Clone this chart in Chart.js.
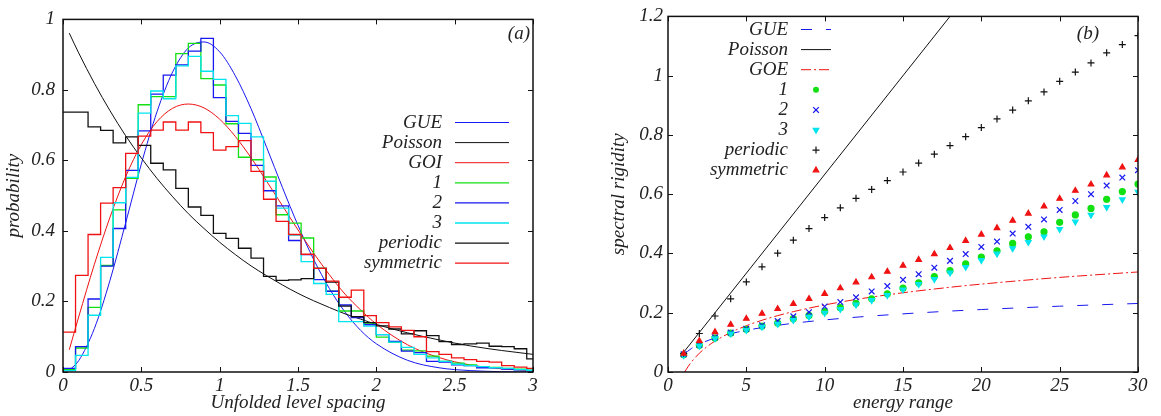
<!DOCTYPE html>
<html><head><meta charset="utf-8">
<script src="https://cdn.jsdelivr.net/npm/chart.js@4.4.1/dist/chart.umd.min.js"></script>
<style>
html,body{margin:0;padding:0;background:#fff;width:1161px;height:416px;overflow:hidden}
canvas{position:absolute;top:0}
#ca{left:0}
#cb{left:580px}
</style></head><body>
<canvas id="ca" width="580" height="416"></canvas>
<canvas id="cb" width="581" height="416"></canvas>
<script>
// ---------- Panel (a): level spacing distribution ----------
const binEdges = [0,0.08,0.16,0.24,0.32,0.4,0.48,0.56,0.64,0.72,0.8,0.88,0.96,1.04,1.12,1.2,1.28,1.36,1.44,1.52,1.6,1.68,1.76,1.84,1.92,2.0,2.08,2.16,2.24,2.32,2.4,2.48,2.56,2.64,2.72,2.8,2.88,2.96,3.04];
const hist1 = [0.007,0.068,0.183,0.302,0.460,0.549,0.758,0.781,0.781,0.903,0.932,0.832,0.814,0.704,0.609,0.602,0.553,0.446,0.422,0.380,0.294,0.229,0.173,0.173,0.139,0.099,0.085,0.062,0.060,0.045,0.030,0.025,0.020,0.015,0.013,0.010,0.008,0.005];
const hist2 = [0.010,0.072,0.207,0.300,0.407,0.572,0.684,0.788,0.842,0.871,0.910,0.946,0.778,0.711,0.677,0.586,0.514,0.471,0.373,0.333,0.262,0.229,0.190,0.154,0.134,0.106,0.087,0.059,0.055,0.030,0.028,0.020,0.018,0.012,0.012,0.008,0.006,0.004];
const hist3 = [0.004,0.047,0.161,0.325,0.480,0.552,0.734,0.797,0.775,0.868,0.895,0.853,0.830,0.727,0.705,0.667,0.541,0.465,0.388,0.313,0.251,0.220,0.143,0.143,0.130,0.106,0.085,0.070,0.050,0.040,0.030,0.022,0.018,0.015,0.012,0.010,0.007,0.005];
const histPeriodic = [0.737,0.737,0.695,0.685,0.650,0.667,0.643,0.592,0.573,0.521,0.468,0.444,0.393,0.379,0.351,0.323,0.271,0.260,0.261,0.265,0.294,0.255,0.187,0.157,0.140,0.131,0.122,0.108,0.117,0.103,0.086,0.078,0.080,0.082,0.073,0.072,0.066,0.037];
const histSymmetric = [0.113,0.274,0.390,0.479,0.523,0.620,0.669,0.686,0.709,0.686,0.709,0.679,0.629,0.639,0.656,0.569,0.490,0.427,0.390,0.334,0.294,0.258,0.212,0.232,0.160,0.140,0.128,0.118,0.100,0.058,0.050,0.040,0.035,0.030,0.028,0.018,0.014,0.010];
const curveS = [0.04,0.1,0.2,0.3,0.4,0.5,0.6,0.7,0.8,0.9,1.0,1.1,1.2,1.3,1.4,1.5,1.6,1.7,1.8,1.9,2.0,2.2,2.4,2.6,2.8,3.0];
const gueP = [0.005,0.032,0.123,0.260,0.423,0.590,0.738,0.851,0.919,0.936,0.908,0.840,0.747,0.637,0.524,0.416,0.319,0.237,0.170,0.118,0.080,0.033,0.012,0.004,0.001,0.0003];
const poissonP = [0.961,0.905,0.819,0.741,0.670,0.607,0.549,0.497,0.449,0.407,0.368,0.333,0.301,0.273,0.247,0.223,0.202,0.183,0.165,0.150,0.135,0.111,0.091,0.074,0.061,0.050];
const goiP = [0.063,0.156,0.305,0.439,0.554,0.645,0.710,0.748,0.760,0.749,0.717,0.668,0.608,0.541,0.472,0.403,0.337,0.276,0.221,0.176,0.136,0.077,0.041,0.020,0.009,0.004];
const xTicksA = [0,0.5,1,1.5,2,2.5,3];
const xTickLabelsA = ['0','0.5','1','1.5','2','2.5','3'];
const yTicksA = [0,0.2,0.4,0.6,0.8,1];
const yTickLabelsA = ['0','0.2','0.4','0.6','0.8','1'];

// ---------- Panel (b): spectral rigidity ----------
const energy = [1,2,3,4,5,6,7,8,9,10,11,12,13,14,15,16,17,18,19,20,21,22,23,24,25,26,27,28,29,30];
const rig1 = [0.058,0.090,0.115,0.131,0.144,0.155,0.165,0.180,0.191,0.204,0.217,0.232,0.247,0.264,0.283,0.301,0.322,0.342,0.365,0.388,0.409,0.434,0.456,0.473,0.505,0.530,0.552,0.583,0.609,0.634];
const rig2 = [0.060,0.092,0.117,0.133,0.146,0.158,0.172,0.188,0.202,0.221,0.236,0.252,0.272,0.290,0.311,0.330,0.352,0.375,0.398,0.422,0.440,0.467,0.490,0.515,0.547,0.577,0.600,0.629,0.656,0.681];
const rig3 = [0.056,0.088,0.113,0.129,0.141,0.152,0.162,0.175,0.186,0.199,0.212,0.227,0.242,0.259,0.278,0.296,0.313,0.335,0.354,0.377,0.399,0.417,0.438,0.457,0.482,0.507,0.530,0.556,0.582,0.608];
const rigPeriodic = [0.063,0.130,0.189,0.247,0.304,0.355,0.401,0.445,0.484,0.521,0.554,0.586,0.616,0.646,0.675,0.705,0.735,0.764,0.794,0.825,0.854,0.884,0.915,0.945,0.981,1.012,1.043,1.077,1.105,1.135];
const rigSymmetric = [0.062,0.105,0.135,0.160,0.180,0.197,0.213,0.230,0.247,0.264,0.283,0.303,0.320,0.339,0.359,0.379,0.398,0.419,0.443,0.464,0.486,0.511,0.535,0.559,0.585,0.612,0.633,0.664,0.691,0.716];
const gueL = [1,1.5,2,3,4,5,6,7,8,10,12,15,18,20,25,30];
const gueD3 = [0.0590,0.0796,0.0941,0.1147,0.1293,0.1406,0.1498,0.1576,0.1644,0.1757,0.1849,0.1962,0.2055,0.2108,0.2221,0.2313];
const goeL = [1.07,1.15,1.3,1.5,2,2.5,3,4,5,6,7,8,10,12,15,18,20,25,30];
const goeD3 = [0.000,0.0072,0.0196,0.0341,0.0633,0.0859,0.1044,0.1335,0.1561,0.1746,0.1902,0.2037,0.2263,0.2448,0.2674,0.2859,0.2966,0.3192,0.3376];
const poissonL = [1,18];
const poissonD3 = [0.0667,1.2];
const xTicksB = [0,5,10,15,20,25,30];
const xTickLabelsB = ['0','5','10','15','20','25','30'];
const yTicksB = [0,0.2,0.4,0.6,0.8,1,1.2];
const yTickLabelsB = ['0','0.2','0.4','0.6','0.8','1','1.2'];

// ---------- styling ----------
const FAMILY = '"Liberation Serif", "Times New Roman", serif';
const FONT = {family: FAMILY, style: 'italic', size: 19};
const TXT = '#222';
const BLUE = '#1818f0', GREEN = '#12e012', CYAN = '#00e4ee', RED = '#f01212', BLACK = '#111';

function pts(xs, ys) { return xs.map((x, i) => ({x: x, y: ys[i]})); }
function histDs(label, vals, color) {
  return {label, data: binEdges.map((x, i) => ({x: x, y: vals[Math.min(i, vals.length - 1)]})),
    borderColor: color, borderWidth: 1.3, stepped: 'before', pointRadius: 0, fill: false};
}
function curveDs(label, xs, ys, color, dash) {
  return {label, data: pts(xs, ys), borderColor: color, borderWidth: 1, pointRadius: 0,
    cubicInterpolationMode: 'monotone', fill: false, borderDash: dash || []};
}
function markDs(label, ys, color, style, r, rot) {
  return {label, data: pts(energy, ys), showLine: false, borderColor: color, backgroundColor: color,
    pointStyle: style, pointRadius: r, pointBackgroundColor: color, pointBorderColor: color,
    pointBorderWidth: 1.2, pointRotation: rot || 0};
}

function drawMarker(ctx, style, rot, x, y, r, color, bw) {
  ctx.save();
  ctx.translate(x, y); ctx.rotate(rot * Math.PI / 180);
  ctx.fillStyle = color; ctx.strokeStyle = color; ctx.lineWidth = bw; ctx.setLineDash([]);
  ctx.beginPath();
  if (style === 'circle') { ctx.arc(0, 0, r, 0, Math.PI * 2); ctx.fill(); }
  else if (style === 'triangle') { ctx.moveTo(0, -r); ctx.lineTo(r * 0.866, r * 0.5); ctx.lineTo(-r * 0.866, r * 0.5); ctx.closePath(); ctx.fill(); ctx.stroke(); }
  else if (style === 'cross') { ctx.moveTo(-r, 0); ctx.lineTo(r, 0); ctx.moveTo(0, -r); ctx.lineTo(0, r); ctx.stroke(); }
  else if (style === 'crossRot') { const d = r * 0.7071; ctx.moveTo(-d, -d); ctx.lineTo(d, d); ctx.moveTo(d, -d); ctx.lineTo(-d, d); ctx.stroke(); }
  ctx.restore();
}

const framePlugin = {
  id: 'frameLegend',
  afterDraw(chart, args, o) {
    const ctx = chart.ctx, a = chart.chartArea, sx = chart.scales.x, sy = chart.scales.y;
    ctx.save();
    ctx.strokeStyle = BLACK; ctx.lineWidth = 1; ctx.setLineDash([]);
    ctx.beginPath();
    const L = 5;
    sx.ticks.forEach(t => {
      const x = Math.round(sx.getPixelForValue(t.value)) + 0.5;
      ctx.moveTo(x, a.bottom); ctx.lineTo(x, a.bottom - L);
      ctx.moveTo(x, a.top); ctx.lineTo(x, a.top + L);
    });
    sy.ticks.forEach(t => {
      const y = Math.round(sy.getPixelForValue(t.value)) + 0.5;
      ctx.moveTo(a.left, y); ctx.lineTo(a.left + L, y);
      ctx.moveTo(a.right, y); ctx.lineTo(a.right - L, y);
    });
    ctx.stroke();
    ctx.lineWidth = 1.5;
    ctx.strokeRect(a.left, a.top, a.right - a.left, a.bottom - a.top);
    // legend
    ctx.font = 'italic 19px ' + FAMILY;
    ctx.fillStyle = TXT; ctx.textAlign = 'right'; ctx.textBaseline = 'middle';
    chart.data.datasets.forEach((ds, i) => {
      const y = o.y0 + i * o.dy;
      ctx.fillStyle = TXT;
      ctx.fillText(ds.label, o.textX, y);
      if (ds.showLine === false) {
        drawMarker(ctx, ds.pointStyle, ds.pointRotation, o.markX, y, ds.pointRadius, ds.pointBorderColor, ds.pointBorderWidth);
      } else {
        ctx.save();
        ctx.strokeStyle = ds.borderColor; ctx.lineWidth = ds.borderWidth; ctx.setLineDash(ds.borderDash || []);
        ctx.beginPath(); ctx.moveTo(o.x1, y); ctx.lineTo(o.x2, y); ctx.stroke();
        ctx.restore();
      }
    });
    ctx.fillStyle = TXT;
    ctx.fillText(o.tag, o.tagX, o.tagY);
    ctx.restore();
  }
};

function makeScales(xTicks, xLabels, yTicks, yLabels, xmax, ymax, xTitle, yTitle, yW, yPad, yTitlePad) {
  return {
    x: {type: 'linear', min: 0, max: xmax,
      afterBuildTicks: s => { s.ticks = xTicks.map(v => ({value: v})); },
      ticks: {font: FONT, color: TXT, padding: 3, maxRotation: 0, autoSkip: false, callback: (v, i) => xLabels[i]},
      grid: {display: false, drawTicks: false}, border: {display: false},
      title: {display: true, text: xTitle, font: FONT, color: TXT, padding: {top: 0, bottom: 2}},
      afterFit: s => { s.height = 44; }},
    y: {type: 'linear', min: 0, max: ymax,
      afterBuildTicks: s => { s.ticks = yTicks.map(v => ({value: v})); },
      ticks: {font: FONT, color: TXT, padding: yPad, autoSkip: false, callback: (v, i) => yLabels[i]},
      grid: {display: false, drawTicks: false}, border: {display: false},
      title: {display: true, text: yTitle, font: FONT, color: TXT, padding: {top: yTitlePad, bottom: 0}},
      afterFit: s => { s.width = yW; }}
  };
}

const dsA = [
  curveDs('GUE', curveS, gueP, BLUE),
  curveDs('Poisson', curveS, poissonP, BLACK),
  curveDs('GOI', curveS, goiP, RED),
  histDs('1', hist1, GREEN),
  histDs('2', hist2, BLUE),
  histDs('3', hist3, CYAN),
  histDs('periodic', histPeriodic, BLACK),
  histDs('symmetric', histSymmetric, RED)
];
dsA.forEach((d, i) => { d.order = 20 - i; });

new Chart(document.getElementById('ca'), {
  type: 'line',
  data: {datasets: dsA},
  options: {
    responsive: false, animation: false, events: [], devicePixelRatio: 1,
    layout: {padding: {left: 0, right: 47, top: 14, bottom: 0}},
    scales: makeScales(xTicksA, xTickLabelsA, yTicksA, yTickLabelsA, 3, 1, 'Unfolded level spacing', 'probability', 63, 8, 3),
    plugins: {legend: {display: false}, tooltip: {enabled: false},
      frameLegend: {textX: 442, x1: 455, x2: 509, markX: 482, y0: 122.5, dy: 20.1, tag: '(a)', tagX: 530, tagY: 34}}
  },
  plugins: [framePlugin]
});

const dsB = [
  curveDs('GUE', gueL, gueD3, BLUE, [11, 14]),
  curveDs('Poisson', poissonL, poissonD3, BLACK),
  curveDs('GOE', goeL, goeD3, RED, [10, 3, 2, 3]),
  markDs('1', rig1, GREEN, 'circle', 3),
  markDs('2', rig2, BLUE, 'crossRot', 4),
  markDs('3', rig3, CYAN, 'triangle', 3.2, 180),
  markDs('periodic', rigPeriodic, BLACK, 'cross', 3.5),
  markDs('symmetric', rigSymmetric, RED, 'triangle', 3.2)
];
dsB.forEach((d, i) => { d.order = 20 - i; });

new Chart(document.getElementById('cb'), {
  type: 'line',
  data: {datasets: dsB},
  options: {
    responsive: false, animation: false, events: [], devicePixelRatio: 1,
    layout: {padding: {left: 0, right: 23, top: 14, bottom: 0}},
    scales: makeScales(xTicksB, xTickLabelsB, yTicksB, yTickLabelsB, 30, 1.2, 'energy range', 'spectral rigidity', 88, 5, 28),
    plugins: {legend: {display: false}, tooltip: {enabled: false},
      frameLegend: {textX: 208, x1: 221, x2: 251, markX: 236, y0: 29.5, dy: 20.1, tag: '(b)', tagX: 519, tagY: 34}}
  },
  plugins: [framePlugin]
});
</script>
</body></html>
